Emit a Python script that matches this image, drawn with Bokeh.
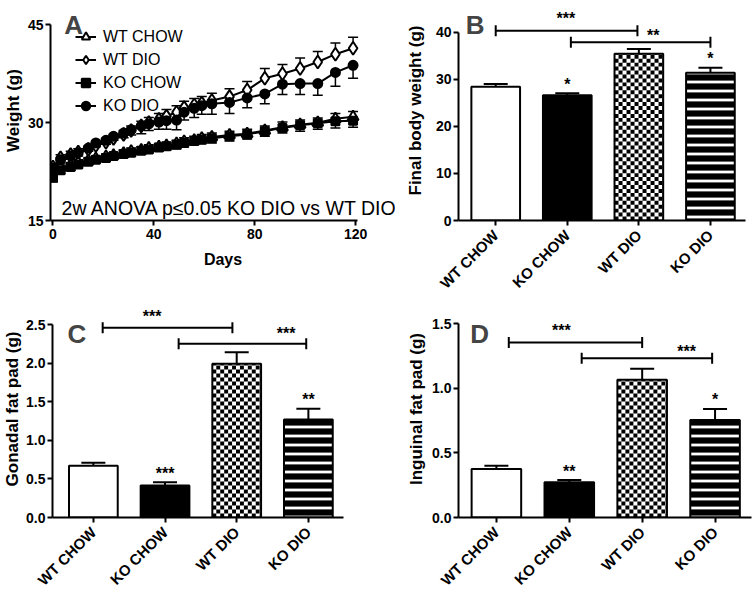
from math import pi
from bokeh.plotting import figure
from bokeh.layouts import column, row
from bokeh.models import (ColumnDataSource, Whisker, TeeHead, Label, Legend, LegendItem,
                          FixedTicker, Range1d, PrintfTickFormatter)
from bokeh.core.properties import value
from bokeh.embed import file_html
from bokeh.resources import INLINE

FONT = "Liberation Sans"

# ---------------- data: panel A (body weight curve) ----------------
days = [0, 3, 7, 10, 14, 17, 21, 24, 28, 31, 35, 38, 42, 45, 49, 52, 56, 59, 63,
        70, 77, 84, 91, 98, 105, 112, 119]
wt_chow = [22.6, 23.1, 23.5, 23.9, 24.2, 24.5, 24.8, 25.0, 25.3, 25.6, 25.8, 26.1, 26.3, 26.5,
           26.8, 27.1, 27.3, 27.6, 27.8, 28.1, 28.3, 28.8, 29.3, 29.7, 30.0, 30.6, 30.9]
wt_chow_err = [0.4, 0.4, 0.4, 0.4, 0.4, 0.4, 0.4, 0.4, 0.5, 0.5, 0.5, 0.5, 0.5, 0.5,
               0.5, 0.6, 0.6, 0.6, 0.6, 0.6, 0.7, 0.7, 0.8, 0.7, 0.7, 0.8, 0.8]
ko_chow = [21.6, 22.7, 23.2, 23.6, 24.0, 24.3, 24.6, 24.9, 25.2, 25.4, 25.7, 25.9, 26.2, 26.4,
           26.6, 26.9, 27.2, 27.4, 27.6, 27.9, 28.2, 28.7, 29.2, 29.6, 29.9, 30.2, 30.3]
ko_chow_err = [0.7, 0.5, 0.5, 0.5, 0.5, 0.5, 0.5, 0.5, 0.5, 0.5, 0.5, 0.5, 0.5, 0.6,
               0.6, 0.6, 0.6, 0.6, 0.7, 0.7, 0.7, 0.8, 0.8, 0.9, 0.9, 1.0, 1.0]
wt_dio = [23.2, 24.6, 25.1, 25.5, 25.9, 26.5, 27.0, 27.6, 28.2, 28.8, 29.5, 30.0, 30.5, 31.0,
          31.6, 32.3, 32.7, 33.0, 33.4, 34.0, 35.0, 36.8, 37.5, 38.3, 39.3, 40.5, 41.4]
wt_dio_err = [0.5, 0.5, 0.5, 0.5, 0.5, 0.5, 0.6, 0.6, 0.6, 0.7, 0.7, 0.8, 0.9, 1.0,
              1.0, 1.0, 1.0, 1.0, 1.1, 1.2, 1.3, 1.5, 1.4, 1.6, 1.6, 1.7, 1.7]
ko_dio = [23.0, 24.3, 24.9, 25.4, 26.1, 26.9, 27.3, 27.9, 28.4, 28.9, 29.5, 29.8, 30.1, 30.3,
          30.4, 31.6, 32.2, 32.6, 32.9, 33.1, 33.8, 34.4, 35.9, 36.0, 36.0, 37.7, 38.8]
ko_dio_err = [0.5, 0.5, 0.5, 0.5, 0.5, 0.6, 0.6, 0.6, 0.7, 0.8, 1.2, 1.0, 1.1, 1.3,
              1.5, 1.2, 1.4, 1.3, 1.6, 1.7, 1.5, 1.5, 1.6, 1.7, 1.8, 2.1, 2.0]
a_yticks = [15, 30, 45]
a_xticks = [0, 40, 80, 120]
anova_text = "2w ANOVA p\u22640.05 KO DIO vs WT DIO"

# ---------------- data: bar panels ----------------
groups = ["WT CHOW", "KO CHOW", "WT DIO", "KO DIO"]
final_bw = [28.4, 26.6, 35.4, 31.35]
final_bw_err = [0.6, 0.4, 1.0, 1.05]
final_bw_stars = ["", "*", "", "*"]
gonadal = [0.67, 0.414, 1.99, 1.27]
gonadal_err = [0.04, 0.043, 0.15, 0.14]
gonadal_stars = ["", "***", "", "**"]
inguinal = [0.376, 0.273, 1.065, 0.755]
inguinal_err = [0.024, 0.017, 0.085, 0.085]
inguinal_stars = ["", "**", "", "*"]
bw_ticks = [0, 10, 20, 30, 40]
gon_ticks = [0.0, 0.5, 1.0, 1.5, 2.0, 2.5]
ing_ticks = [0.0, 0.5, 1.0, 1.5]
# brackets: (x_from, x_to, y, label, label_x, label_y)
bw_brackets = [(0.0, 1.98, 40.27, "***", 0.98, 42.87), (1.05, 3.0, 37.84, "**", 2.2, 39.37)]
gon_brackets = [(0.13, 1.94, 2.457, "***", 0.82, 2.604), (1.19, 2.97, 2.25, "***", 2.69, 2.383)]
ing_brackets = [(0.17, 2.0, 1.353, "***", 0.89, 1.446), (1.17, 2.96, 1.232, "***", 2.61, 1.286)]

BAR_W = 0.68
CHECK_PX = 4.0  # size of one checkerboard square, in pixels


def make_fig(w, h, xr, yr, mbl, mbr, mbt, mbb):
    p = figure(width=w, height=h, x_range=Range1d(*xr), y_range=Range1d(*yr),
               output_backend="svg", toolbar_location=None,
               min_border_left=mbl, min_border_right=mbr, min_border_top=mbt, min_border_bottom=mbb)
    p.outline_line_color = None
    p.grid.visible = False
    p.background_fill_color = "white"
    p.border_fill_color = "white"
    for ax in p.axis:
        ax.axis_line_width = 2
        ax.axis_line_color = "black"
        ax.major_tick_line_width = 2
        ax.major_tick_line_color = "black"
        ax.major_tick_out = 5
        ax.major_tick_in = 0
        ax.minor_tick_line_color = None
        ax.major_label_text_font = FONT
        ax.major_label_text_font_style = "bold"
        ax.major_label_text_font_size = "14px"
        ax.major_label_text_color = "black"
        ax.major_label_standoff = 2
        ax.axis_label_text_font = FONT
        ax.axis_label_text_font_style = "bold"
        ax.axis_label_text_font_size = "17px"
        ax.axis_label_text_color = "black"
    return p


def panel_label(p, text, x, y):
    p.add_layout(Label(x=x, y=y, text=text, text_font=FONT, text_font_style="bold",
                       text_font_size="26px", text_baseline="alphabetic", text_align="left"))


# ---------------- Panel A ----------------
a_w, a_h = 395, 300
a_mbl, a_mbr, a_mbb = 49, 0, 74
a_fh = a_h - a_mbb
a_ppu_y = 6.7
a_ppu_x = 2.529
a_x0 = -2.5 / a_ppu_x
a_x1 = a_x0 + (a_w - a_mbl - a_mbr) / a_ppu_x
pA = make_fig(a_w, a_h, (a_x0, a_x1), (15, 15 + a_fh / a_ppu_y), a_mbl, a_mbr, 0, a_mbb)
pA.yaxis.bounds = (15, 45)
pA.xaxis.bounds = (a_x0, 120.6)
pA.yaxis.ticker = FixedTicker(ticks=a_yticks)
pA.xaxis.ticker = FixedTicker(ticks=a_xticks)
pA.yaxis.axis_label = "Weight (g)"
pA.xaxis.axis_label = "Days"
pA.xaxis.axis_label_text_font_size = "16px"
pA.yaxis.major_label_standoff = 2
pA.yaxis.axis_label_standoff = 2
pA.xaxis.axis_label_standoff = 9
pA.xaxis.major_label_standoff = 3

series = [
    ("WT CHOW", wt_chow, wt_chow_err, "triangle", 11, "white", True),
    ("WT DIO", wt_dio, wt_dio_err, "diamond", 13, "white", True),
    ("KO CHOW", ko_chow, ko_chow_err, "square", 8, "black", False),
    ("KO DIO", ko_dio, ko_dio_err, "circle", 9, "black", False),
]
items = []
for name, vals, errs, marker, size, fill, upper in series:
    if upper:
        up = [v + e for v, e in zip(vals, errs)]
        lo = list(vals)
    else:
        up = list(vals)
        lo = [v - e for v, e in zip(vals, errs)]
    src = ColumnDataSource(dict(x=days, y=vals, up=up, lo=lo))
    wh = Whisker(source=src, base="x", upper="up", lower="lo", dimension="height",
                 line_color="black", line_width=1.5, level="underlay",
                 upper_head=TeeHead(size=10, line_width=1.5, line_color="black") if upper else None,
                 lower_head=None if upper else TeeHead(size=10, line_width=1.5, line_color="black"))
    pA.add_layout(wh)
    lr = pA.line("x", "y", source=src, line_color="black", line_width=2)
    sr = pA.scatter("x", "y", source=src, marker=marker, size=size, fill_color=fill,
                    line_color="black", line_width=2)
    items.append(LegendItem(label=name, renderers=[lr, sr]))

legA = Legend(items=items, location="top_left", margin=25, padding=0, spacing=0,
              glyph_width=21, glyph_height=23, label_height=23, label_standoff=7,
              label_text_font=FONT, label_text_font_size="16px", label_text_color="black",
              background_fill_alpha=0, border_line_color=None)
pA.add_layout(legA)
panel_label(pA, "A", 4.5, 45)
pA.add_layout(Label(x=3.4, y=16.94, text=anova_text, text_font=FONT, text_font_size="19.5px",
                    text_baseline="alphabetic", text_color="black"))


# ---------------- Bar panels ----------------
def checker_cells(xc, top, sx, sy):
    """Black squares of a checkerboard filling a bar (x centre xc, height top)."""
    left0 = xc - BAR_W / 2
    right0 = xc + BAR_W / 2
    L, R, B, T = [], [], [], []
    ncol = int(round(BAR_W / sx + 0.4999))
    nrow = int(top / sy) + 1
    for r in range(nrow):
        b = r * sy
        if b >= top:
            break
        t = min(b + sy, top)
        for c in range(ncol):
            if (r + c) % 2:
                continue
            l = left0 + c * sx
            if l >= right0:
                break
            L.append(l)
            R.append(min(l + sx, right0))
            B.append(b)
            T.append(t)
    return L, R, B, T


def bar_panel(w, h, xr, ymax_axis, ppu_y, mbl, mbr, mbb, vals, errs, stars, ticks, brackets,
              ylabel, letter, letter_xy, label_standoff, decimals):
    fh = h - mbb
    fw = w - mbl - mbr
    ppu_x = fw / (xr[1] - xr[0])
    p = make_fig(w, h, xr, (0, fh / ppu_y), mbl, mbr, 0, mbb)
    p.yaxis.bounds = (0, ymax_axis)
    p.yaxis.ticker = FixedTicker(ticks=ticks)
    if decimals:
        p.yaxis.formatter = PrintfTickFormatter(format="%.1f")
    p.yaxis.axis_label = ylabel
    p.yaxis.axis_label_standoff = label_standoff
    p.yaxis.major_label_standoff = 2
    xs = list(range(len(groups)))
    p.xaxis.ticker = FixedTicker(ticks=xs)
    p.xaxis.major_label_overrides = {i: g for i, g in enumerate(groups)}
    p.xaxis.major_label_orientation = pi / 4
    p.xaxis.major_label_text_font_size = "15px"
    p.xaxis.major_label_standoff = 7

    # error bars (upper only)
    esrc = ColumnDataSource(dict(x=xs, top=vals, up=[v + e for v, e in zip(vals, errs)]))
    p.add_layout(Whisker(source=esrc, base="x", upper="up", lower="top", dimension="height",
                         line_color="black", line_width=2, level="underlay",
                         upper_head=TeeHead(size=24, line_width=2, line_color="black"),
                         lower_head=None))
    # bar fills
    p.vbar(x=[xs[0]], top=[vals[0]], bottom=0, width=BAR_W, fill_color="white", line_color=None)
    p.vbar(x=[xs[1]], top=[vals[1]], bottom=0, width=BAR_W, fill_color="black", line_color=None)
    p.vbar(x=[xs[2]], top=[vals[2]], bottom=0, width=BAR_W, fill_color="white", line_color=None)
    L, R, B, T = checker_cells(xs[2], vals[2], CHECK_PX / ppu_x, CHECK_PX / ppu_y)
    p.quad(left=L, right=R, bottom=B, top=T, fill_color="black", line_color=None)
    p.vbar(x=[xs[3]], top=[vals[3]], bottom=0, width=BAR_W, fill_color="white",
           hatch_pattern="horizontal_line", hatch_color="black", hatch_scale=9, hatch_weight=6.2,
           line_color=None)
    # bar outlines
    p.vbar(x=xs, top=vals, bottom=0, width=BAR_W, fill_color=None, line_color="black",
           line_width=2)
    # stars above bars
    off = 9.0 / ppu_y
    sx = [x for x, s in zip(xs, stars) if s]
    sy = [v + e + off for v, e, s in zip(vals, errs, stars) if s]
    st = [s for s in stars if s]
    p.text(x=sx, y=sy, text=st, text_font=value(FONT), text_font_style="bold",
           text_font_size="16px", text_align="center", text_baseline="alphabetic",
           text_color="black")
    # significance brackets
    bsrc = ColumnDataSource(dict(y=[b[2] for b in brackets], x0=[b[0] for b in brackets],
                                 x1=[b[1] for b in brackets]))
    p.add_layout(Whisker(source=bsrc, base="y", lower="x0", upper="x1", dimension="width",
                         line_color="black", line_width=2, level="overlay",
                         upper_head=TeeHead(size=11, line_width=2, line_color="black"),
                         lower_head=TeeHead(size=11, line_width=2, line_color="black")))
    p.text(x=[b[4] for b in brackets], y=[b[5] for b in brackets], text=[b[3] for b in brackets],
           text_font=value(FONT), text_font_style="bold", text_font_size="16px",
           text_align="center", text_baseline="alphabetic", text_color="black")
    panel_label(p, letter, *letter_xy)
    return p


pB = bar_panel(361, 300, (-0.52, 3.49), 40, 4.775, 63, 11, 77, final_bw, final_bw_err,
               final_bw_stars, bw_ticks, bw_brackets, "Final body weight (g)", "B", (-0.42, 41.5),
               8, False)
pC = bar_panel(395, 297, (-0.57, 3.49), 2.5, 77.2, 48, 52, 80, gonadal, gonadal_err,
               gonadal_stars, gon_ticks, gon_brackets, "Gonadal fat pad (g)", "C", (-0.36, 2.38),
               1, True)
pD = bar_panel(361, 297, (-0.52, 3.50), 1.5, 129.3, 63, 5, 80, inguinal, inguinal_err,
               inguinal_stars, ing_ticks, ing_brackets, "Inguinal fat pad (g)", "D", (-0.36, 1.42),
               3, True)

layout = column(row(pA, pB), row(pC, pD))
open("out.html", "w").write(file_html(layout, INLINE))
